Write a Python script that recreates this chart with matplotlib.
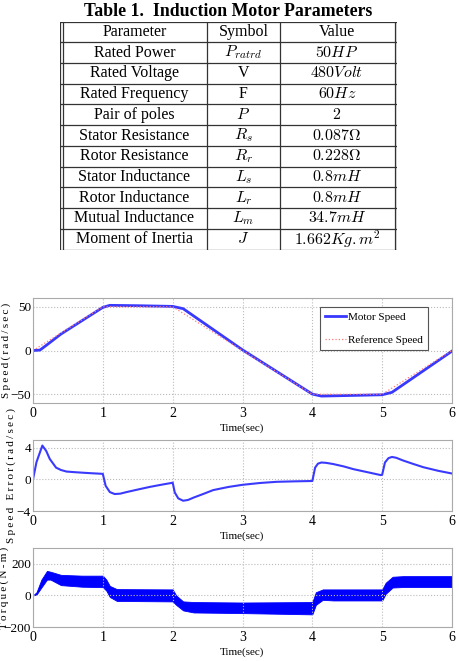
import numpy as np
import matplotlib
matplotlib.use("Agg")
import matplotlib.pyplot as plt

plt.rcParams['font.family'] = ['Liberation Serif', 'DejaVu Serif']
plt.rcParams['mathtext.fontset'] = 'cm'

# table contents
params = ["Rated Power", "Rated Voltage", "Rated Frequency", "Pair of poles",
          "Stator Resistance", "Rotor Resistance", "Stator Inductance",
          "Rotor Inductance", "Mutual Inductance", "Moment of Inertia"]
symbols = [r"$P_{ratrd}$", "V", "F", r"$P$", r"$R_s$", r"$R_r$", r"$L_s$",
           r"$L_r$", r"$L_m$", r"$J$"]
values = [r"$50HP$", r"$480Volt$", r"$60Hz$", r"$2$", r"$0.087\Omega$",
          r"$0.228\Omega$", r"$0.8mH$", r"$0.8mH$", r"$34.7mH$",
          r"$1.662Kg.m^2$"]

# speed (rad/sec)
ref_t = [0, 1, 2, 4, 5, 6]
ref_speed = [0, 50, 50, -50, -50, 0]
motor_t = [0, 0.1, 0.2, 0.4, 1.0, 1.1, 1.5, 2.0, 2.15, 3.0, 4.0, 4.13, 4.6,
           5.0, 5.14, 6.0]
motor_speed = [0, 0.5, 6.5, 18.8, 49.3, 51.6, 51.2, 50.4, 47.8, 0.7, -49.8,
               -52.1, -51.3, -50.6, -47.8, -0.7]

# speed error (rad/sec)
err_t = [0, 0.05, 0.134, 0.19, 0.24, 0.33, 0.4, 0.48, 0.6, 0.72, 0.85, 0.98,
         1.0, 1.04, 1.1, 1.17, 1.25, 1.34, 1.5, 1.67, 1.85, 1.98,
         2.0, 2.03, 2.08, 2.15, 2.22, 2.3, 2.45, 2.58, 2.8, 3.0, 3.25, 3.49,
         3.75, 3.99,
         4.0, 4.04, 4.08, 4.13, 4.2, 4.3, 4.45, 4.59, 4.8, 4.98,
         5.0, 5.04, 5.09, 5.14, 5.2, 5.3, 5.45, 5.59, 5.8, 6.0]
speed_err = [0, 2.2, 4.3, 3.6, 2.6, 1.5, 1.2, 1.0, 0.92, 0.85, 0.78, 0.72,
             0.7, -0.8, -1.6, -1.85, -1.8, -1.6, -1.28, -0.95, -0.65, -0.45,
             -0.4, -1.65, -2.4, -2.7, -2.6, -2.3, -1.8, -1.35, -0.95, -0.68,
             -0.45, -0.3, -0.24, -0.2,
             -0.2, 1.5, 2.0, 2.15, 2.1, 1.95, 1.65, 1.3, 0.9, 0.55,
             0.6, 2.15, 2.7, 2.85, 2.75, 2.4, 1.95, 1.55, 1.1, 0.75]

# torque (N-m) : envelope of the ripple band
tq_t = [0, 0.05, 0.12, 0.2, 0.25, 0.4, 0.7, 1.0, 1.05, 1.1, 1.2, 2.0, 2.05,
        2.15, 2.3, 3.0, 4.0, 4.05, 4.15, 4.3, 5.0, 5.05, 5.15, 5.3, 6.0]
tq_upper = [0, 20, 100, 155, 150, 130, 125, 125, 100, 60, 40, 38, 0, -38,
            -42, -45, -42, 20, 38, 38, 38, 80, 118, 122, 122]
tq_lower = [0, 5, 50, 100, 100, 65, 55, 52, 30, -10, -35, -38, -60, -95,
            -108, -112, -120, -60, -28, -32, -32, 10, 50, 53, 53]

W, H = 459, 661
fig = plt.figure(figsize=(W / 100, H / 100), dpi=100)

# ---- table ----
fig.text(228 / W, 1 - 11 / H, "Table 1.  Induction Motor Parameters",
         ha='center', va='center', fontsize=12.8, fontweight='bold')
ax_t = fig.add_axes([60 / W, 1 - 249.5 / H, 337 / W, 228 / H])
ax_t.set_xlim(0, 337)
ax_t.set_ylim(0, 11)
ax_t.axis('off')
lc = '#333333'
for x in [0, 2.5, 147, 220, 334.5, 337]:
    ax_t.plot([x, x], [0, 11], color=lc, lw=0.9)
for k in range(12):
    ax_t.plot([0, 337], [k, k], color=lc, lw=0.9)
rows = [("Parameter", "Symbol", "Value")] + list(zip(params, symbols, values))
for i, (p, s, v) in enumerate(rows):
    y = 11 - i - 0.5
    ax_t.text(74.5, y, p, ha='center', va='center', fontsize=11.5)
    ax_t.text(183.5, y, s, ha='center', va='center', fontsize=11.5)
    ax_t.text(277, y, v, ha='center', va='center', fontsize=11.5)


def spaced(s):
    return "\u2009".join(s)


def style(ax, ylim, yticks, ylabel, lab_x):
    ax.set_xlim(0, 6)
    ax.set_ylim(*ylim)
    ax.set_xticks(range(7))
    ax.set_yticks(yticks)
    ax.grid(True, color='#bbbbbb', linestyle=':', linewidth=0.8)
    for s in ax.spines.values():
        s.set_color('#aaaaaa')
        s.set_linewidth(0.8)
    ax.tick_params(axis='x', length=0, labelsize=10, pad=3)
    ax.tick_params(axis='y', length=0, labelsize=9.5, pad=1.5)
    ax.set_xlabel("Time(sec)", fontsize=8, labelpad=2)
    ax.set_ylabel(spaced(ylabel), fontsize=8)
    ax.yaxis.set_label_coords(lab_x, 0.5)


x0, x1 = 33 / W, 452 / W
ax1 = fig.add_axes([x0, 1 - 403 / H, x1 - x0, 105 / H])
ax1.plot(motor_t, motor_speed, color='#3838ff', lw=2, label='Motor Speed')
ax1.plot(ref_t, ref_speed, color='#ff7777', lw=0.9, linestyle=':',
         label='Reference Speed')
style(ax1, (-60, 60), [-50, 0, 50], "Speed(rad/sec)", -0.052)
leg = ax1.legend(loc='upper right', bbox_to_anchor=(0.943, 0.915),
                 fontsize=8, fancybox=False, framealpha=1,
                 edgecolor='#555555', handlelength=1.9, borderpad=0.45,
                 labelspacing=1.2, handletextpad=0.2, borderaxespad=0)
leg.get_frame().set_linewidth(0.8)

ax2 = fig.add_axes([x0, 1 - 511 / H, x1 - x0, 71 / H])
ax2.plot(err_t, speed_err, color='#3a3aff', lw=1.5)
style(ax2, (-4, 5), [-4, 0, 4], "Speed Error(rad/sec)", -0.04)

ax3 = fig.add_axes([x0, 1 - 627 / H, x1 - x0, 79 / H])
ax3.fill_between(tq_t, tq_lower, tq_upper, color='#0000ff', lw=0.6,
                 edgecolor='#0000ff')
style(ax3, (-200, 300), [-200, 0, 200], "Torque(N-m)", -0.058)

fig.savefig("out.png", dpi=100)
